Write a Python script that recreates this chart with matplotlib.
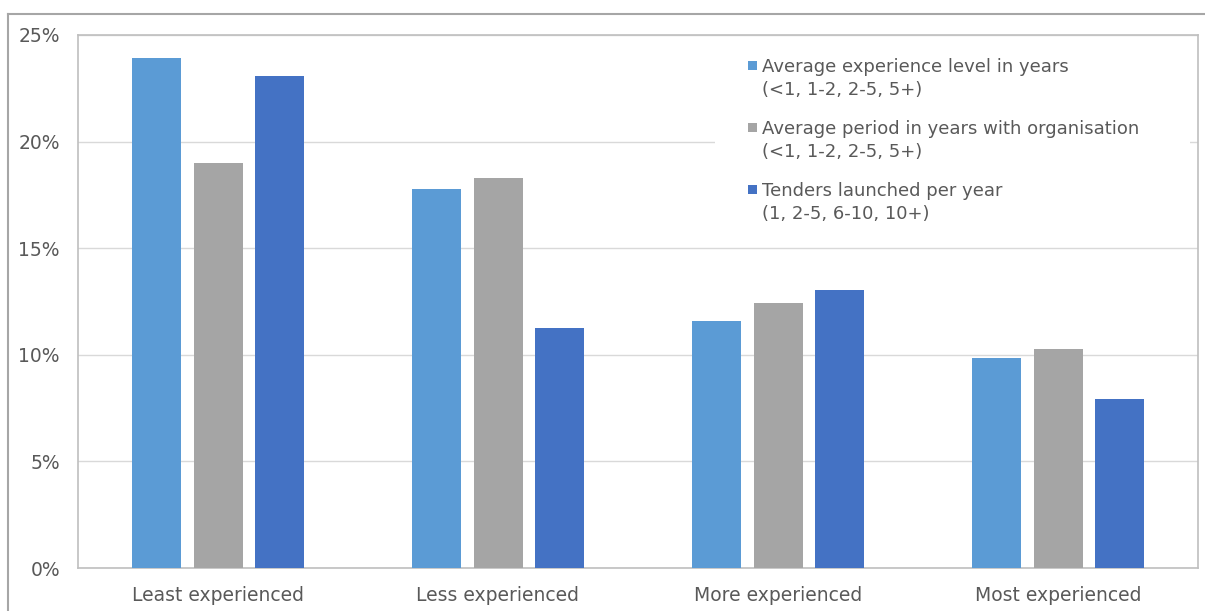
import matplotlib.pyplot as plt
import numpy as np
from matplotlib.patches import Rectangle
from matplotlib.lines import Line2D

plt.rcParams['font.family'] = ['DejaVu Sans']

categories = ["Least experienced", "Less experienced", "More experienced", "Most experienced"]
series_names = [
    "Average experience level in years\n(<1, 1-2, 2-5, 5+)",
    "Average period in years with organisation\n(<1, 1-2, 2-5, 5+)",
    "Tenders launched per year\n(1, 2-5, 6-10, 10+)",
]
experience = [23.9, 17.8, 11.6, 9.85]
period = [19.0, 18.3, 12.45, 10.25]
tenders = [23.1, 11.25, 13.05, 7.95]
colors = ["#5B9BD5", "#A5A5A5", "#4472C4"]

W, H = 1205, 611
fig = plt.figure(figsize=(W / 100, H / 100), dpi=100)
ax = fig.add_axes([78 / W, (H - 568) / H, 1120 / W, 533 / H])

x = np.arange(len(categories))
width = 0.175
step = 0.221
for i, vals in enumerate([experience, period, tenders]):
    ax.bar(x + (i - 1) * step, vals, width, color=colors[i], zorder=3)

ax.set_xlim(-0.5, len(categories) - 0.5)
ax.set_ylim(0, 25)
ax.set_yticks(range(0, 26, 5))
ax.set_yticklabels([f"{v}%" for v in range(0, 26, 5)])
ax.set_xticks(x)
ax.set_xticklabels(categories)
ax.tick_params(length=0, labelsize=13.5, colors="#595959")
ax.tick_params(axis="y", pad=13)
ax.tick_params(axis="x", pad=13)
ax.grid(axis="y", color="#D9D9D9", linewidth=1, zorder=0)
for s in ax.spines.values():
    s.set_color("#BFBFBF")
    s.set_linewidth(1.2)

# legend box, drawn by hand so the marker sits on the first line
ax.add_patch(Rectangle((0.569, 0.625), 0.424, 0.36, transform=ax.transAxes,
                       facecolor="white", edgecolor="none", zorder=4))
for i, name in enumerate(series_names):
    ty = 0.942 - i * 0.1163
    ax.add_patch(Rectangle((0.598, ty - 0.0085), 0.008, 0.017, transform=ax.transAxes,
                           facecolor=colors[i], edgecolor="none", zorder=5))
    ax.text(0.6107, ty + 0.015, name, transform=ax.transAxes, va="top", ha="left",
            fontsize=13, color="#595959", linespacing=1.38, zorder=5)

# outer chart border (top and left edges)
fig.add_artist(Line2D([8 / W, 1.0], [1 - 14 / H, 1 - 14 / H], color="#A6A6A6", linewidth=1.5))
fig.add_artist(Line2D([8 / W, 8 / W], [0, 1 - 14 / H], color="#A6A6A6", linewidth=1.5))

fig.savefig("out.png", dpi=100)
